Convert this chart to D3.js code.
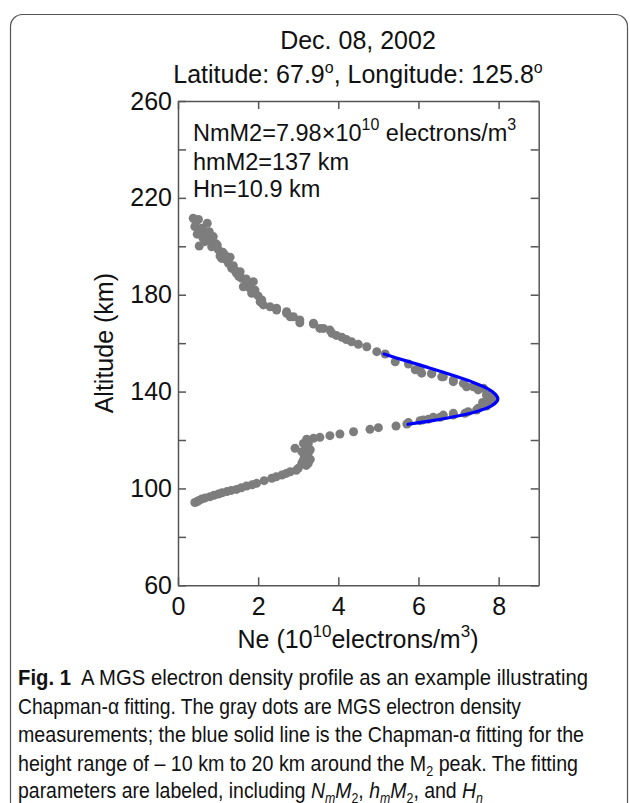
<!DOCTYPE html>
<html>
<head>
<meta charset="utf-8">
<script src="https://cdn.jsdelivr.net/npm/d3@7"></script>
<style>
    body { margin: 0; background: #fff; }
    text { font-family: "Liberation Sans", Arial, sans-serif; fill: #111; }
    .axis path, .axis line { stroke: #555; stroke-width: 1.5; }
    .axis text { font-size: 25px; fill: #111; font-family: "Liberation Sans", Arial, sans-serif; }
    .caption { font-family: "Liberation Sans Narrow", "Open Sans", sans-serif; font-size: 22px; fill: #222; }
</style>
</head>
<body>
<div class="chart"></div>
<script>
// MGS measurements (Ne in 10^10 el/m^3, altitude in km)
var dotNe = [0.38, 0.51, 0.73, 0.42, 0.55, 0.72, 0.88, 0.53, 0.67, 0.84, 1.01, 1.17, 1.09, 1.26, 1.34, 1.46,
    1.59, 1.71, 1.88, 1.63, 1.92, 1.84, 2.09, 2.13, 2.30, 2.46, 2.71, 2.80, 3.04, 3.38, 3.54, 3.79,
    0.45, 0.60, 0.80, 0.62, 0.95, 1.12, 1.20, 1.38, 1.52, 1.80, 2.00, 1.70,
    2.05, 2.46, 2.71, 2.88, 3.04, 3.38, 3.63, 3.84, 4.09, 4.33, 4.71, 4.96, 5.17, 5.42, 5.75, 6.04,
    6.33, 6.58, 6.87, 7.20, 7.49, 7.70, 7.79, 7.70, 7.45, 7.16, 6.87, 6.54, 6.25, 6.04, 5.71, 5.44,
    5.00, 4.79, 4.38, 4.04, 3.79, 3.54, 3.38, 3.21, 3.13, 2.92, 3.09, 3.25, 3.17, 3.25, 3.09, 3.00,
    2.80, 2.59, 2.34, 1.96, 1.71, 1.46, 1.22, 1.01, 0.80, 0.59, 0.47,
    4.50, 3.95, 4.20,
    5.92, 6.08, 6.33, 6.62, 6.87, 7.12, 7.37, 7.62, 7.70, 7.79, 7.70, 7.49, 7.24, 6.87, 6.62, 6.37,
    6.12, 5.75, 7.85, 7.85, 7.60,
    3.20, 3.30, 3.15, 3.30, 3.20, 3.12, 3.25, 2.95, 2.70, 2.45, 2.15, 1.85, 1.58, 1.33, 1.10, 0.90,
    0.68, 0.52, 0.42,
    0.48, 0.66, 0.78, 0.98, 1.05, 1.30, 1.42, 1.55];
var dotAlt = [211.6, 211.1, 209.5, 208.1, 206.7, 205.4, 204.0, 200.1, 201.9, 199.8, 198.5, 196.4, 195.0, 193.0, 190.9, 188.8,
    186.8, 184.7, 185.4, 183.3, 181.9, 180.6, 177.8, 175.8, 175.0, 173.7, 173.0, 170.9, 169.6, 168.2, 166.1, 165.4,
    210.0, 207.5, 202.5, 203.5, 201.0, 197.5, 194.5, 192.0, 187.5, 182.5, 179.5, 186.5,
    177.1, 174.4, 172.3, 170.9, 168.4, 167.9, 166.1, 164.1, 162.4, 160.6, 158.5, 156.5, 155.5, 152.3, 151.4, 149.6,
    147.3, 146.1, 144.1, 142.0, 140.7, 138.6, 136.5, 134.0, 132.4, 131.0, 130.3, 129.4, 128.6, 128.0, 126.6, 125.8,
    125.1, 124.4, 123.4, 122.5, 121.8, 121.1, 120.7, 120.3, 118.6, 116.6, 115.2, 114.5, 112.5, 110.4, 110.4, 108.3,
    106.9, 105.5, 104.2, 102.1, 101.0, 99.6, 98.7, 97.7, 96.6, 95.6, 94.5,
    159.5, 163.2, 161.5,
    149.0, 147.6, 147.6, 146.1, 144.8, 143.4, 142.0, 141.4, 138.6, 136.5, 134.5, 133.1, 131.7, 131.0, 130.3, 129.4,
    128.3, 127.2, 138.0, 137.0, 135.5,
    117.0, 116.0, 113.5, 112.0, 109.5, 111.5, 118.5, 107.5, 106.2, 104.8, 103.2, 101.5, 100.3, 99.2, 98.2, 97.2,
    96.1, 95.0, 94.2,
    205.0, 204.5, 206.0, 200.5, 196.0, 195.5, 190.0, 189.5];

// Chapman-alpha fit
var fitAlt = [126.5, 128, 130, 132, 134, 136, 137, 138, 140, 142, 144, 146, 148, 150, 152, 154, 155.5];
var fitNe = [5.74, 6.35, 7.01, 7.50, 7.81, 7.96, 7.98, 7.96, 7.84, 7.63, 7.34, 6.99, 6.62, 6.23, 5.83, 5.43, 5.14];

var xTicks = [0, 2, 4, 6, 8];
var yTicks = [60, 80, 100, 120, 140, 160, 180, 200, 220, 240, 260];

var captionLines = [
    "A MGS electron density profile as an example illustrating",
    "Chapman-\u03b1 fitting. The gray dots are MGS electron density",
    "measurements; the blue solid line is the Chapman-\u03b1 fitting for the"
];

var width = 630,
    height = 803,
    plot = { left: 178, right: 538.7, top: 101, bottom: 585.3 };

var svg = d3.select(".chart")
    .append("svg")
    .attr("width", width)
    .attr("height", height);

// rounded frame round the figure
svg.append("rect")
    .attr("x", 10.5)
    .attr("y", 14.5)
    .attr("width", 617)
    .attr("height", 800)
    .attr("rx", 12)
    .style("fill", "none")
    .style("stroke", "#555")
    .style("stroke-width", 1.2);

var x = d3.scaleLinear().domain([0, 9]).range([plot.left, plot.right]);
var y = d3.scaleLinear().domain([60, 260]).range([plot.bottom, plot.top]);

// title
var title = svg.append("g").attr("text-anchor", "middle").style("font-size", "25px");
title.append("text").attr("x", 358).attr("y", 49).text("Dec. 08, 2002");
var t2 = title.append("text").attr("x", 358).attr("y", 83);
t2.append("tspan").text("Latitude: 67.9");
t2.append("tspan").attr("dy", -10).style("font-size", "16px").text("o");
t2.append("tspan").attr("dy", 10).text(", Longitude: 125.8");
t2.append("tspan").attr("dy", -10).style("font-size", "16px").text("o");

// axes, ticks pointing inward
svg.append("g")
    .attr("class", "axis")
    .attr("transform", "translate(" + plot.left + ",0)")
    .call(d3.axisLeft(y).tickValues(yTicks).tickSizeInner(-8).tickSizeOuter(0).tickPadding(6)
        .tickFormat(function (d) { return d % 40 === 20 ? d : ""; }));

svg.append("g")
    .attr("class", "axis")
    .attr("transform", "translate(" + plot.right + ",0)")
    .call(d3.axisRight(y).tickValues(yTicks).tickSizeInner(-8).tickSizeOuter(0).tickFormat(""));

svg.append("g")
    .attr("class", "axis")
    .attr("transform", "translate(0," + plot.bottom + ")")
    .call(d3.axisBottom(x).tickValues(xTicks).tickSizeInner(-8).tickSizeOuter(0).tickPadding(11.5));

svg.append("g")
    .attr("class", "axis")
    .attr("transform", "translate(0," + plot.top + ")")
    .call(d3.axisTop(x).tickValues(xTicks).tickSizeInner(-8).tickSizeOuter(0).tickFormat(""));

svg.selectAll(".axis text").style("fill", "#111");

// axis labels
svg.append("text")
    .attr("transform", "translate(113," + ((plot.top + plot.bottom) / 2) + ") rotate(-90)")
    .attr("text-anchor", "middle")
    .style("font-size", "25px")
    .text("Altitude (km)");

var xl = svg.append("text")
    .attr("x", 358)
    .attr("y", 648)
    .attr("text-anchor", "middle")
    .style("font-size", "25px");
xl.append("tspan").text("Ne (10");
xl.append("tspan").attr("dy", -11).style("font-size", "17px").text("10");
xl.append("tspan").attr("dy", 11).text("electrons/m");
xl.append("tspan").attr("dy", -11).style("font-size", "17px").text("3");
xl.append("tspan").attr("dy", 11).text(")");

// measurements
var dots = d3.range(dotNe.length).map(function (i) {
    return { ne: dotNe[i], alt: dotAlt[i] };
});

svg.append("g")
    .selectAll("circle")
    .data(dots)
    .enter().append("circle")
    .attr("cx", function (d) { return x(d.ne); })
    .attr("cy", function (d) { return y(d.alt); })
    .attr("r", 4.5)
    .style("fill", "#7d7d7d");

// fitted curve
var fit = d3.range(fitNe.length).map(function (i) {
    return { ne: fitNe[i], alt: fitAlt[i] };
});

var line = d3.line()
    .x(function (d) { return x(d.ne); })
    .y(function (d) { return y(d.alt); })
    .curve(d3.curveCatmullRom);

svg.append("path")
    .datum(fit)
    .attr("d", line)
    .style("fill", "none")
    .style("stroke", "#0000ff")
    .style("stroke-width", 3.2)
    .style("stroke-linecap", "round");

// fit parameters
var ann = svg.append("g").style("font-size", "23.5px");
var a1 = ann.append("text").attr("x", 193).attr("y", 141);
a1.append("tspan").text("NmM2=7.98\u00d710");
a1.append("tspan").attr("dy", -11).style("font-size", "16px").text("10");
a1.append("tspan").attr("dy", 11).text(" electrons/m");
a1.append("tspan").attr("dy", -11).style("font-size", "16px").text("3");
ann.append("text").attr("x", 193).attr("y", 170).text("hmM2=137 km");
ann.append("text").attr("x", 193).attr("y", 197).text("Hn=10.9 km");

// caption
var cap = svg.append("g").attr("class", "caption");
var c0 = cap.append("text").attr("x", 18).attr("y", 685)
    .attr("textLength", 570).attr("lengthAdjust", "spacingAndGlyphs");
c0.append("tspan").style("font-weight", "bold").text("Fig. 1");
c0.append("tspan").text("\u2002" + captionLines[0]);

cap.append("text").attr("x", 18).attr("y", 713.5)
    .attr("textLength", 503).attr("lengthAdjust", "spacingAndGlyphs")
    .text(captionLines[1]);
cap.append("text").attr("x", 18).attr("y", 742)
    .attr("textLength", 566).attr("lengthAdjust", "spacingAndGlyphs")
    .text(captionLines[2]);

var c3 = cap.append("text").attr("x", 18).attr("y", 770.5)
    .attr("textLength", 560).attr("lengthAdjust", "spacingAndGlyphs");
c3.append("tspan").text("height range of \u2013 10 km to 20 km around the M");
c3.append("tspan").attr("dy", 5).style("font-size", "14px").text("2");
c3.append("tspan").attr("dy", -5).text(" peak. The fitting");

var c4 = cap.append("text").attr("x", 18).attr("y", 798)
    .attr("textLength", 465).attr("lengthAdjust", "spacingAndGlyphs");
c4.append("tspan").text("parameters are labeled, including ");
c4.append("tspan").style("font-style", "italic").text("N");
c4.append("tspan").attr("dy", 5).style("font-size", "14px").style("font-style", "italic").text("m");
c4.append("tspan").attr("dy", -5).style("font-style", "italic").text("M");
c4.append("tspan").attr("dy", 5).style("font-size", "14px").text("2");
c4.append("tspan").attr("dy", -5).text(", ");
c4.append("tspan").style("font-style", "italic").text("h");
c4.append("tspan").attr("dy", 5).style("font-size", "14px").style("font-style", "italic").text("m");
c4.append("tspan").attr("dy", -5).style("font-style", "italic").text("M");
c4.append("tspan").attr("dy", 5).style("font-size", "14px").text("2");
c4.append("tspan").attr("dy", -5).text(", and ");
c4.append("tspan").style("font-style", "italic").text("H");
c4.append("tspan").attr("dy", 5).style("font-size", "14px").style("font-style", "italic").text("n");
</script>
</body>
</html>
